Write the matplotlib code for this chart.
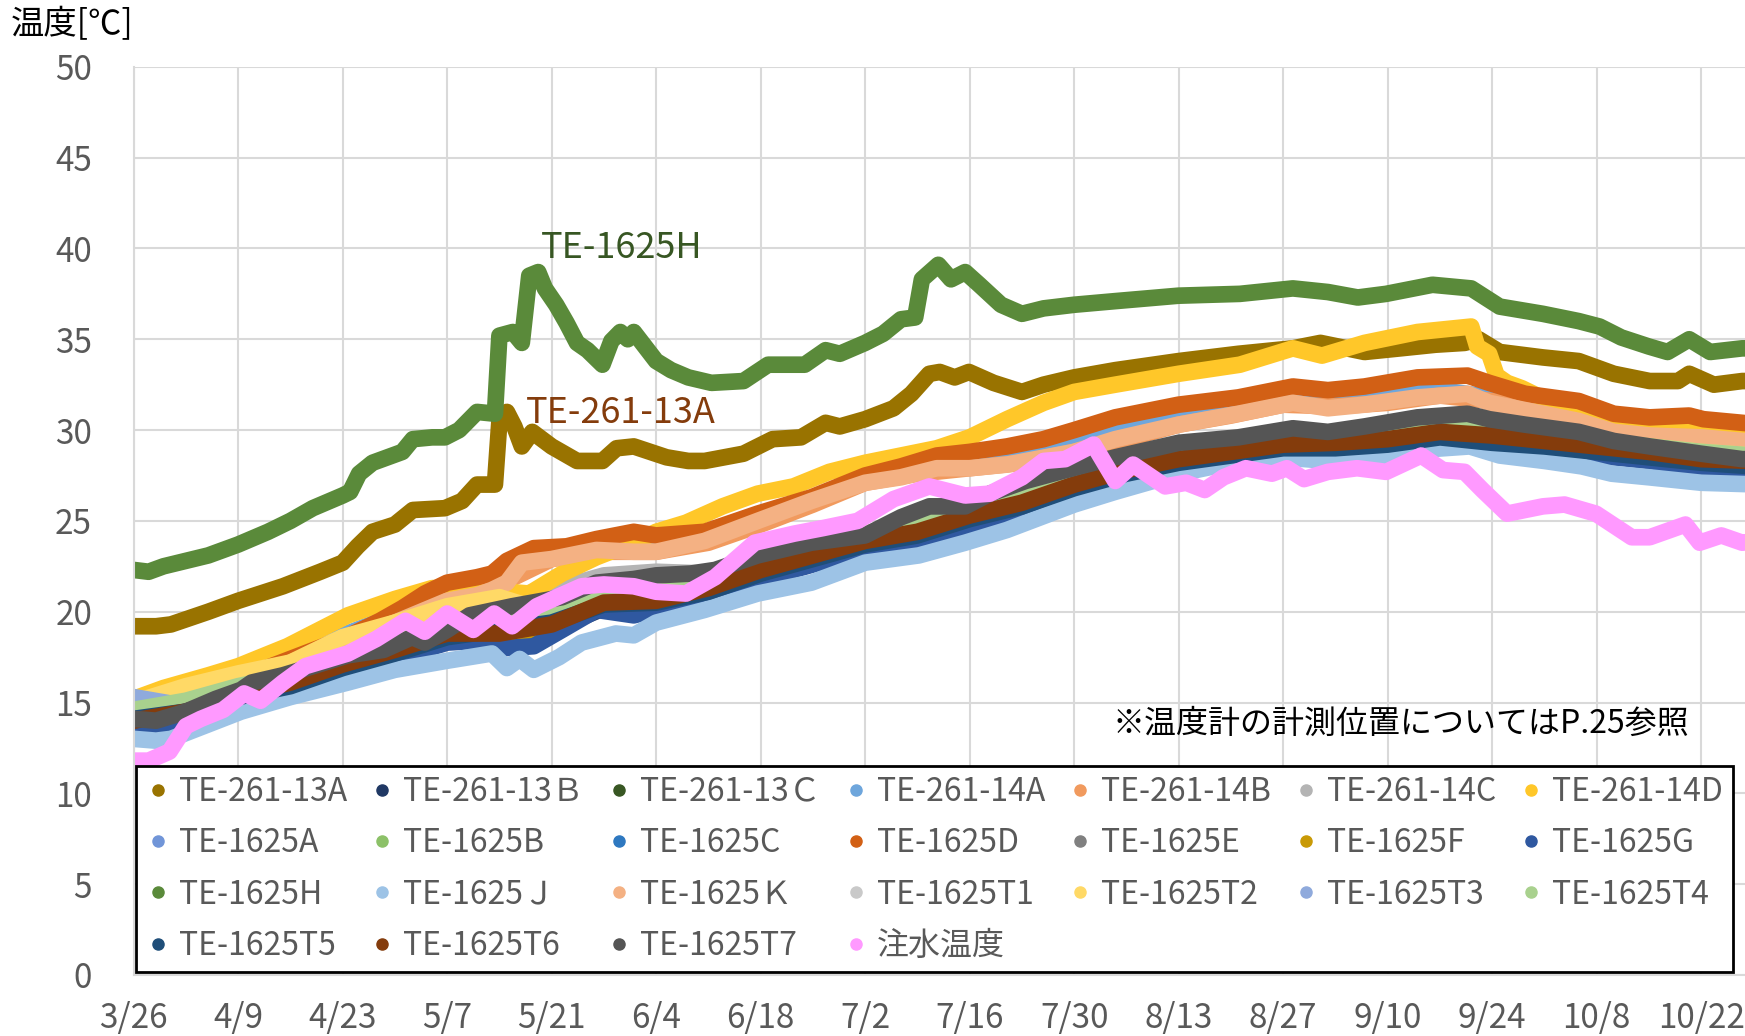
import matplotlib.pyplot as plt
from matplotlib.lines import Line2D

plt.rcParams['font.family'] = ['Noto Sans CJK JP', 'DejaVu Sans']

# === DATA (days after 3/26, temperature in degC) ===
TICK_DAYS = list(range(0, 211, 14))
TICK_LABELS = ["3/26", "4/9", "4/23", "5/7", "5/21", "6/4", "6/18", "7/2",
               "7/16", "7/30", "8/13", "8/27", "9/10", "9/24", "10/8", "10/22"]

WEEK_DAYS = list(range(0, 218, 7))

# clearly visible series, read point by point
H_DAYS = [0, 2, 4, 7, 10, 14, 18, 21, 24, 28, 29, 30.2, 32, 34, 36, 37.4, 40, 41.7, 43.6, 46,
          48.4, 49, 50.8, 52, 53, 54.2, 55.1, 56.6, 58, 59.4, 60.8, 62.8, 64, 65.2, 66.2, 67, 70, 72, 74.3, 77.4,
          81.7, 85, 89.9, 92.7, 94.6, 98, 100.4, 102.8, 104.7, 105.6, 107.8, 109.5, 111.4, 113.3, 116.2, 119,
          121.9, 126, 131.5, 140, 148.2, 155.3, 160, 164, 167.8, 174, 179.2, 183, 188.8, 193.6, 196.4, 199.3,
          203, 205.5, 208.4, 211.2, 215.5, 218]
H_VALS = [22.3, 22.2, 22.5, 22.8, 23.1, 23.7, 24.4, 25.0, 25.7, 26.4, 26.6, 27.6, 28.2, 28.5, 28.8, 29.5, 29.6, 29.6, 30.0, 31.0,
          30.9, 35.2, 35.4, 34.8, 38.5, 38.7, 37.8, 36.9, 35.9, 34.8, 34.4, 33.6, 34.9, 35.4, 35.0, 35.4, 33.8, 33.3, 32.9, 32.6,
          32.7, 33.6, 33.6, 34.4, 34.2, 34.8, 35.3, 36.1, 36.2, 38.3, 39.1, 38.3, 38.7, 38.0, 36.9, 36.4,
          36.7, 36.9, 37.1, 37.4, 37.5, 37.8, 37.6, 37.3, 37.5, 38.0, 37.8, 36.8, 36.4, 36.0, 35.7, 35.1,
          34.6, 34.3, 35.0, 34.3, 34.5, 34.5]

A13_DAYS = [0, 3, 5, 10, 14, 20, 25, 28, 30, 32, 35, 37.4, 41.7, 44, 46, 48.4, 49, 50, 51, 52,
            53.4, 56, 59.4, 62.8, 64.7, 67, 71.4, 74.3, 76.5, 81.7, 85.6, 89.4, 92.7, 94.6, 98, 101.8, 104.2,
            106.6, 108, 110, 111.9, 115.2, 119, 121.9, 126, 131.5, 140, 148, 155.3, 159, 164.9, 169.7, 174.4,
            178.3, 180.2, 183, 188.8, 193.6, 198.3, 203.1, 206.9, 208.4, 211.7, 215.5, 218]
A13_VALS = [19.2, 19.2, 19.3, 20.0, 20.6, 21.4, 22.2, 22.7, 23.6, 24.4, 24.8, 25.6, 25.7, 26.1, 27.0, 27.0, 30.5, 31.0, 30.2, 29.1,
            29.9, 29.1, 28.3, 28.3, 29.0, 29.1, 28.5, 28.3, 28.3, 28.7, 29.5, 29.6, 30.4, 30.2, 30.6, 31.2, 32.0,
            33.1, 33.2, 32.9, 33.2, 32.6, 32.1, 32.5, 32.9, 33.3, 33.8, 34.2, 34.5, 34.8, 34.3, 34.5, 34.7,
            34.8, 35.0, 34.3, 34.0, 33.8, 33.1, 32.7, 32.7, 33.1, 32.5, 32.7, 32.7]

D14_DAYS = [0, 4, 10, 14, 20.6, 28.7, 35, 40, 44, 47, 50, 53, 57.4, 62, 67, 70, 74, 78.9, 83.6, 88.4,
            93.2, 98, 102.8, 107.6, 112, 117, 121.9, 126, 131.5, 140, 148.2, 155.3, 159.2, 164.9, 172, 176.8,
            179.2, 180, 181.6, 182.6, 184, 186, 190, 196, 203, 210, 215.5, 218]
D14_VALS = [15.2, 15.8, 16.5, 17.0, 18.1, 19.8, 20.7, 21.3, 21.3, 21.0, 21.1, 21.0, 22.1, 23.0, 23.8, 24.4, 24.9, 25.8, 26.5, 26.9,
            27.7, 28.2, 28.6, 29.0, 29.6, 30.6, 31.5, 32.1, 32.5, 33.1, 33.6, 34.5, 34.1, 34.8, 35.4, 35.6,
            35.7, 34.6, 34.2, 33.0, 32.6, 32.3, 31.5, 30.8, 30.2, 30.0, 29.8, 29.7]

D_DAYS = [0, 7, 14, 21, 28, 33, 36, 39, 42, 46, 48, 50, 53.6, 58, 62, 67, 70, 76.5, 83.6, 90.8,
          98, 102.8, 107.6, 112, 117, 121.9, 126, 131.5, 140, 148, 155.3, 160, 164.9, 172, 178.7, 181.6,
          186.4, 193.6, 198.3, 203.1, 208.4, 210.3, 215.5, 218]
D_VALS = [14.5, 15.4, 16.3, 17.4, 18.5, 19.5, 20.2, 21.0, 21.6, 21.9, 22.1, 22.8, 23.5, 23.6, 24.0, 24.4, 24.2, 24.4, 25.4, 26.3,
          27.5, 28.0, 28.6, 28.8, 29.1, 29.5, 30.0, 30.7, 31.4, 31.8, 32.4, 32.2, 32.4, 32.9, 33.0, 32.6,
          32.0, 31.6, 30.9, 30.7, 30.8, 30.6, 30.4, 30.3]

K_DAYS = [0, 7, 14, 21, 28, 35, 42, 46, 48, 50, 52, 56, 62, 67, 70, 76.5, 83.6, 90.8, 98, 102.8,
          107.6, 112, 117, 126, 131.5, 140, 148, 155.3, 160, 164.9, 172, 178.7, 181.6, 186.4, 193.6, 198.3,
          203.1, 210, 215.5, 218]
K_VALS = [14.4, 15.3, 16.1, 17.2, 18.3, 19.4, 20.6, 20.9, 21.2, 21.6, 22.7, 22.9, 23.4, 23.3, 23.3, 23.9, 25.0, 26.1, 27.1, 27.4,
          27.9, 27.9, 28.1, 28.8, 29.5, 30.3, 30.9, 31.5, 31.2, 31.4, 31.8, 32.0, 31.5, 31.1, 30.5, 29.9,
          29.7, 29.6, 29.4, 29.3]

T7_DAYS = [0, 3, 7, 11, 14.4, 15.8, 20, 24, 28.7, 33.5, 37.3, 39, 42, 45, 50.7, 57.4, 62, 67, 70, 74.6,
           77.9, 83.6, 90.8, 98, 102.8, 106.6, 111.4, 114.7, 119.5, 126.7, 131.5, 140, 148, 155.3, 160, 164.9,
           172, 178.7, 181.6, 186.4, 193.6, 198.3, 203.1, 210, 215.5, 218]
T7_VALS = [14.1, 14.0, 14.5, 15.2, 15.7, 16.1, 16.5, 17.0, 17.6, 17.9, 18.6, 18.3, 19.0, 19.8, 20.3, 20.8, 21.6, 21.8, 22.0, 22.1,
           22.3, 23.1, 23.8, 24.2, 25.2, 25.8, 25.8, 26.5, 27.2, 28.0, 28.5, 29.3, 29.6, 30.1, 29.9, 30.2,
           30.7, 30.9, 30.6, 30.3, 29.9, 29.4, 29.1, 28.7, 28.4, 28.4]

G_DAYS = [0, 3, 7, 14, 21, 28, 35, 42, 46, 48.3, 50, 53.6, 57.4, 62, 67, 70, 74.6, 77, 84, 91,
          98, 105, 111.4, 117, 126, 131.5, 140, 147, 154, 161, 168, 175, 179, 182, 189, 196, 203, 210, 218]
G_VALS = [13.4, 13.4, 14.0, 14.9, 15.5, 16.6, 17.4, 18.3, 18.4, 18.6, 18.0, 18.1, 19.0, 20.1, 19.8, 20.1, 20.5, 20.8, 21.8, 22.6,
          23.4, 23.9, 24.7, 25.3, 26.5, 27.2, 27.9, 28.3, 28.7, 28.8, 29.0, 29.4, 29.5, 29.2, 28.9, 28.6, 28.3, 27.9, 27.8]

J_DAYS = [0, 3, 5, 14.4, 21, 28.7, 35, 42, 48, 50, 51.7, 53.6, 57, 60, 64.6, 67, 70, 76.5, 83.6, 90.8,
          98, 105.2, 111.4, 117, 126, 131.5, 140, 147, 154, 160, 165, 172, 179, 183, 189, 194, 198, 203, 210, 218]
J_VALS = [13.0, 12.9, 13.0, 14.5, 15.3, 16.1, 16.8, 17.3, 17.7, 16.9, 17.4, 16.8, 17.5, 18.3, 18.8, 18.7, 19.4, 20.1, 21.0, 21.6,
          22.7, 23.1, 23.8, 24.5, 25.9, 26.6, 27.6, 28.2, 28.5, 28.3, 28.4, 28.9, 29.1, 28.6, 28.3, 28.0, 27.6, 27.4, 27.1, 27.0]

PINK_DAYS = [0, 2, 4.8, 7, 9, 12, 14.8, 17, 20, 23, 28.7, 32.5, 36.4, 39, 42, 45.5, 48.3, 50.7, 54, 60,
             63, 67, 70, 74, 77.9, 83.2, 88.5, 92.3, 97, 101.8, 106.6, 111.4, 114.7, 119, 121.9, 124.8, 128.6,
             131.5, 133.9, 138.2, 141, 143.5, 146, 149, 152.5, 154.5, 156.8, 160, 163.9, 167.8, 172.5, 175.4,
             178.3, 180.7, 184, 188.8, 191.7, 195.9, 200.7, 203.1, 207.9, 209.8, 212.7, 215.5, 218]
PINK_VALS = [11.8, 11.8, 12.3, 13.7, 14.1, 14.6, 15.5, 15.1, 16.1, 17.0, 17.7, 18.5, 19.5, 18.9, 19.9, 19.0, 19.9, 19.2, 20.3, 21.4,
             21.5, 21.4, 21.1, 21.0, 21.9, 23.8, 24.3, 24.6, 25.0, 26.2, 26.9, 26.4, 26.5, 27.4, 28.3, 28.4, 29.2,
             27.2, 28.1, 26.9, 27.1, 26.7, 27.4, 27.9, 27.6, 27.9, 27.3, 27.7, 27.9, 27.7, 28.6, 27.8,
             27.7, 26.7, 25.4, 25.8, 25.9, 25.4, 24.1, 24.1, 24.8, 23.8, 24.2, 23.8, 23.9]

# bundle series, mostly hidden, read once a week
B13_VALS = [13.6, 14.2, 15.1, 15.7, 16.8, 17.6, 18.5, 18.4, 19.0, 20.2, 20.3, 21.0, 22.0, 22.8, 23.6, 24.1,
            25.0, 25.7, 26.7, 27.5, 28.1, 28.5, 28.9, 29.0, 29.2, 29.6, 29.4, 29.1, 28.8, 28.5, 28.1, 28.0]
C13_VALS = [14.3, 14.7, 15.5, 16.1, 17.1, 17.9, 18.8, 19.2, 19.6, 20.6, 20.7, 21.3, 22.3, 23.1, 23.9, 24.4,
            25.3, 26.0, 27.0, 27.8, 28.4, 28.8, 29.2, 29.2, 29.4, 29.8, 29.5, 29.3, 29.0, 28.7, 28.4, 28.2]
A14_VALS = [14.6, 15.5, 16.5, 17.6, 18.7, 19.8, 20.9, 21.8, 23.0, 23.5, 23.6, 24.1, 25.2, 26.2, 27.3, 27.8,
            28.3, 28.6, 29.3, 30.0, 30.7, 31.2, 31.7, 31.6, 31.9, 32.2, 31.8, 31.2, 30.8, 30.1, 29.9, 29.7]
B14_VALS = [14.4, 15.3, 16.1, 17.2, 18.3, 19.4, 20.6, 21.5, 22.9, 23.3, 23.3, 23.8, 24.8, 25.9, 27.1, 27.6,
            27.9, 28.2, 28.8, 29.5, 30.3, 30.8, 31.4, 31.3, 31.5, 31.9, 31.6, 31.0, 30.4, 29.8, 29.6, 29.3]
C14_VALS = [14.8, 15.4, 16.3, 17.8, 18.5, 19.5, 20.5, 20.8, 21.2, 22.0, 22.2, 22.1, 22.6, 23.4, 24.0, 24.6,
            25.3, 26.2, 27.1, 27.8, 28.4, 28.8, 29.2, 29.1, 29.4, 29.8, 29.5, 29.3, 29.0, 28.7, 28.4, 28.2]
A_VALS = [14.5, 14.9, 15.7, 16.3, 17.3, 18.1, 19.0, 19.4, 19.8, 20.8, 20.9, 21.5, 22.5, 23.3, 24.1, 24.6,
          25.5, 26.2, 27.2, 28.0, 28.6, 29.0, 29.4, 29.4, 29.6, 30.0, 29.7, 29.5, 29.2, 28.9, 28.6, 28.4]
B_VALS = [14.6, 15.0, 15.8, 16.4, 17.4, 18.2, 19.1, 19.5, 19.9, 20.9, 21.0, 21.6, 22.6, 23.4, 24.2, 24.7,
          25.6, 26.3, 27.3, 28.1, 28.7, 29.1, 29.5, 29.5, 29.7, 30.1, 29.8, 29.6, 29.3, 29.0, 28.7, 28.5]
C_VALS = [14.2, 14.6, 15.4, 16.0, 17.0, 17.8, 18.7, 19.1, 19.5, 20.5, 20.6, 21.2, 22.2, 23.0, 23.8, 24.3,
          25.2, 25.9, 26.9, 27.7, 28.3, 28.7, 29.1, 29.1, 29.3, 29.7, 29.4, 29.2, 28.9, 28.6, 28.3, 28.1]
E_VALS = [14.4, 14.8, 15.6, 16.2, 17.2, 18.0, 18.9, 19.3, 19.7, 20.7, 20.8, 21.4, 22.4, 23.2, 24.0, 24.5,
          25.4, 26.1, 27.1, 27.9, 28.5, 28.9, 29.3, 29.3, 29.5, 29.9, 29.6, 29.4, 29.1, 28.8, 28.5, 28.3]
F_VALS = [13.9, 14.4, 15.3, 16.0, 17.0, 17.8, 18.7, 18.6, 19.2, 20.4, 20.5, 21.2, 22.2, 23.0, 23.8, 24.3,
          25.2, 25.9, 26.9, 27.7, 28.3, 28.7, 29.1, 29.2, 29.4, 29.8, 29.6, 29.3, 29.0, 28.7, 28.3, 28.2]
T1_VALS = [14.4, 14.9, 15.7, 16.3, 17.3, 18.1, 19.0, 19.4, 19.8, 20.8, 20.9, 21.5, 22.5, 23.3, 24.1, 24.6,
           25.5, 26.2, 27.2, 28.0, 28.6, 29.0, 29.4, 29.3, 29.6, 30.0, 29.7, 29.5, 29.2, 28.9, 28.6, 28.4]
T2_VALS = [15.0, 15.9, 16.6, 17.2, 18.6, 19.4, 20.3, 20.8, 19.9, 21.0, 21.1, 21.7, 22.7, 23.5, 24.3, 24.8,
           25.7, 26.4, 27.4, 28.2, 28.8, 29.2, 29.6, 29.6, 29.8, 30.2, 29.9, 29.7, 29.4, 29.1, 28.8, 28.6]
T3_VALS = [15.3, 14.8, 15.6, 16.2, 17.2, 18.0, 18.9, 19.3, 19.7, 20.7, 20.8, 21.4, 22.4, 23.2, 24.0, 24.5,
           25.4, 26.1, 27.1, 27.9, 28.5, 28.9, 29.3, 29.3, 29.5, 29.9, 29.6, 29.4, 29.1, 28.8, 28.5, 28.3]
T4_VALS = [14.6, 15.1, 15.9, 16.5, 17.5, 18.3, 19.2, 19.6, 20.0, 21.0, 21.1, 21.7, 22.7, 23.5, 24.3, 24.8,
           25.7, 26.4, 27.4, 28.2, 28.8, 29.2, 29.6, 29.6, 29.8, 30.2, 29.9, 29.7, 29.4, 29.1, 28.8, 28.6]
T5_VALS = [14.1, 14.5, 15.3, 15.9, 16.9, 17.7, 18.6, 19.0, 19.4, 20.4, 20.5, 21.1, 22.1, 22.9, 23.7, 24.2,
           25.1, 25.8, 26.8, 27.6, 28.2, 28.6, 29.0, 29.0, 29.2, 29.6, 29.3, 29.1, 28.8, 28.5, 28.2, 28.0]
T6_VALS = [14.0, 14.5, 15.4, 16.1, 17.1, 17.9, 18.8, 18.8, 19.3, 20.5, 20.6, 21.3, 22.3, 23.1, 23.9, 24.4,
           25.3, 26.0, 27.0, 27.8, 28.4, 28.8, 29.2, 29.3, 29.5, 29.9, 29.7, 29.4, 29.1, 28.8, 28.4, 28.3]

# series in drawing / legend order (label, days, values, colour)
SERIES = [
    ("TE-261-13A", A13_DAYS, A13_VALS, "#997300"),
    ("TE-261-13Ｂ", WEEK_DAYS, B13_VALS, "#203864"),
    ("TE-261-13Ｃ", WEEK_DAYS, C13_VALS, "#385723"),
    ("TE-261-14A", WEEK_DAYS, A14_VALS, "#6EA6DC"),
    ("TE-261-14B", WEEK_DAYS, B14_VALS, "#F19A5E"),
    ("TE-261-14C", WEEK_DAYS, C14_VALS, "#B4B4B4"),
    ("TE-261-14D", D14_DAYS, D14_VALS, "#FFC729"),
    ("TE-1625A", WEEK_DAYS, A_VALS, "#7195D8"),
    ("TE-1625B", WEEK_DAYS, B_VALS, "#8CC168"),
    ("TE-1625C", WEEK_DAYS, C_VALS, "#2E78C0"),
    ("TE-1625D", D_DAYS, D_VALS, "#D26015"),
    ("TE-1625E", WEEK_DAYS, E_VALS, "#808080"),
    ("TE-1625F", WEEK_DAYS, F_VALS, "#C99A06"),
    ("TE-1625G", G_DAYS, G_VALS, "#2F58A0"),
    ("TE-1625H", H_DAYS, H_VALS, "#5A8A3A"),
    ("TE-1625Ｊ", J_DAYS, J_VALS, "#9DC3E6"),
    ("TE-1625Ｋ", K_DAYS, K_VALS, "#F4B183"),
    ("TE-1625T1", WEEK_DAYS, T1_VALS, "#C9C9C9"),
    ("TE-1625T2", WEEK_DAYS, T2_VALS, "#FFD966"),
    ("TE-1625T3", WEEK_DAYS, T3_VALS, "#8FAADC"),
    ("TE-1625T4", WEEK_DAYS, T4_VALS, "#A9D18E"),
    ("TE-1625T5", WEEK_DAYS, T5_VALS, "#1F4E79"),
    ("TE-1625T6", WEEK_DAYS, T6_VALS, "#843C0C"),
    ("TE-1625T7", T7_DAYS, T7_VALS, "#555555"),
    ("注水温度", PINK_DAYS, PINK_VALS, "#FF99FF"),
]

# === PLOT ===
fig = plt.figure(figsize=(17.45, 10.36), dpi=100)
ax = fig.add_axes([0.0766, 0.0589, 0.9496, 0.8766])

for label, days, vals, color in SERIES:
    ax.plot(days, vals, color=color, lw=12, solid_capstyle='round', solid_joinstyle='round')

ax.set_xlim(0, 222)
ax.set_ylim(0, 50)
ax.set_xticks(TICK_DAYS)
ax.set_xticklabels(TICK_LABELS)
ax.set_yticks(range(0, 51, 5))
ax.tick_params(axis='both', length=0, labelsize=24, labelcolor='#595959')
ax.tick_params(axis='y', pad=30)
ax.tick_params(axis='x', pad=19)
ax.grid(True, color='#D9D9D9', lw=1.5)
ax.set_axisbelow(True)
for side in ['top', 'right']:
    ax.spines[side].set_visible(False)
for side in ['left', 'bottom']:
    ax.spines[side].set_color('#D9D9D9')
    ax.spines[side].set_linewidth(1.5)

ax.text(54.6, 40.0, "TE-1625H", color='#375623', fontsize=26, va='center')
ax.text(52.5, 30.95, "TE-261-13A", color='#843C0C', fontsize=26, va='center')
ax.text(131.2, 13.85, "※温度計の計測位置についてはP.25参照", color='black', fontsize=23, va='center')
fig.text(0.0063, 0.976, "温度[℃]", fontsize=24, va='center')

# legend: 4 rows x 7 columns, filled row by row like the original
handles = [Line2D([], [], ls='none', marker='o', markersize=8, color=c) for _, _, _, c in SERIES]
labels = [s[0] for s in SERIES]
blank = Line2D([], [], ls='none')
rows = [list(zip(handles[i:i + 7], labels[i:i + 7])) for i in range(0, len(SERIES), 7)]
rows[-1] += [(blank, "")] * (7 - len(rows[-1]))
leg_h, leg_l = [], []
for col in range(7):
    for row in rows:
        leg_h.append(row[col][0])
        leg_l.append(row[col][1])

leg = ax.legend(leg_h, leg_l, ncols=7, mode='expand', loc='upper left',
                bbox_to_anchor=(0.0013, 0.005, 0.9637, 0.225), borderaxespad=0,
                fontsize=23, labelcolor='#595959', frameon=True, fancybox=False,
                edgecolor='black', framealpha=1, handlelength=0.8, handletextpad=0.25,
                labelspacing=0.61, borderpad=0.3, columnspacing=0.3)
leg.get_frame().set_linewidth(2)

fig.savefig("out.png", dpi=100)
